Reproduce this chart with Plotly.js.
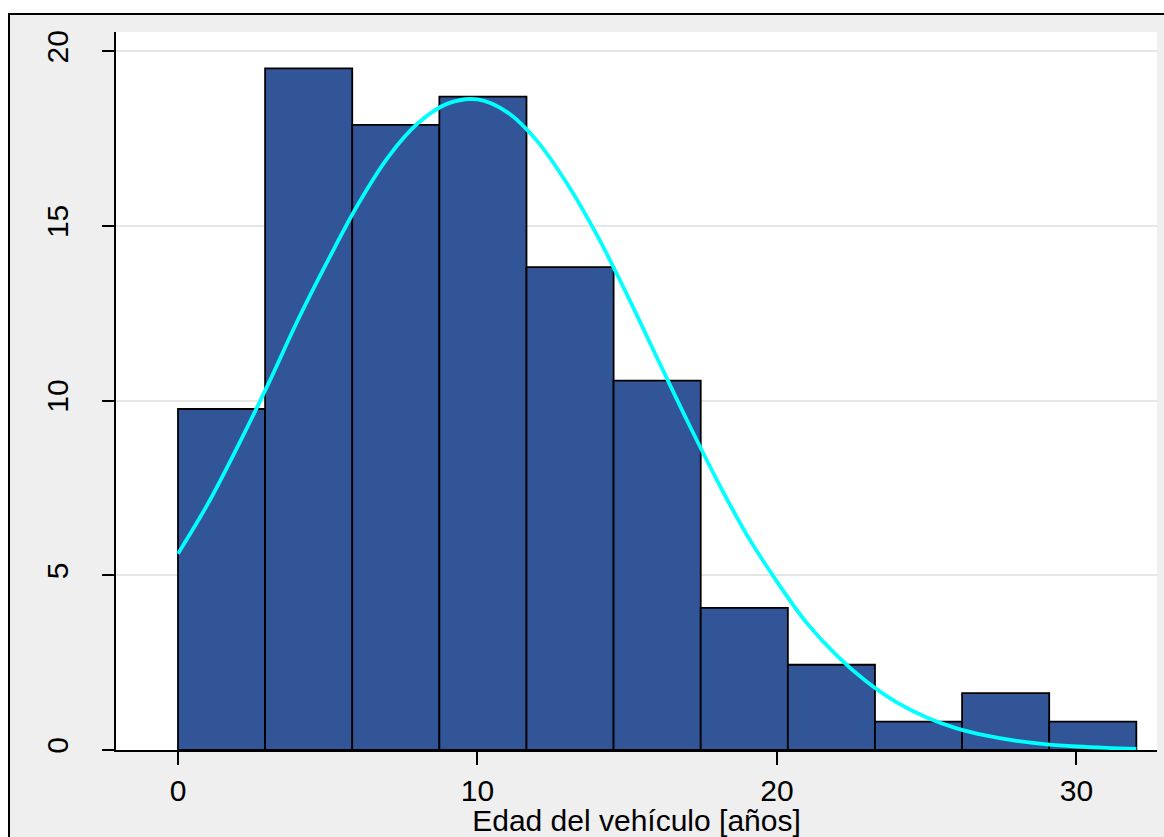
<!DOCTYPE html>
<html>
<head>
<meta charset="utf-8">
<script src="https://cdn.plot.ly/plotly-3.0.1.min.js"></script>
<style>
  html, body { margin: 0; padding: 0; background: #ffffff; overflow: hidden; width: 1164px; height: 837px; }
  #chart { position: absolute; left: 8px; top: 13px; width: 1154px; height: 822px;
           border-left: 2px solid #000; border-top: 2px solid #000; background: #efefef; }
</style>
</head>
<body>
<div id="chart"></div>
<script>
// Histogram: percent of vehicles per age bin (N = 123), 11 bins from 0 to 32 years
const binStart = 0;
const binEnd = 32;
const percent = [9.76, 19.51, 17.89, 18.70, 13.82, 10.57, 4.07, 2.44, 0.81, 1.63, 0.81];

// Normal-density overlay, values at each year (age, percent)
const curveX = [0, 1, 2, 3, 4, 5, 6, 7, 8, 9, 10, 11, 12, 13, 14, 15, 16, 17, 18, 19, 20, 21, 22, 23, 24, 25, 26, 27, 28, 29, 30, 31, 32];
const curveY = [5.62, 7.05, 8.7, 10.45, 12.3, 14.0, 15.6, 16.95, 17.93, 18.5, 18.62, 18.25, 17.42, 16.2, 14.72, 13.02, 11.22, 9.43, 7.72, 6.15, 4.82, 3.63, 2.7, 1.95, 1.36, 0.93, 0.62, 0.41, 0.26, 0.16, 0.10, 0.06, 0.035];

const xTicks = [0, 10, 20, 30];
const yTicks = [0, 5, 10, 15, 20];
const xTitle = 'Edad del vehículo [años]';

const binWidth = (binEnd - binStart) / percent.length;
const binLeft = percent.map((_, i) => binStart + i * binWidth);

const font = "'Liberation Sans', Arial, Helvetica, sans-serif";

const traces = [
  {
    type: 'bar',
    x: binLeft,
    y: percent,
    width: binWidth,
    offset: 0,
    marker: { color: '#325598', line: { color: '#000000', width: 1.8 } },
    hoverinfo: 'x+y'
  },
  {
    type: 'scatter',
    mode: 'lines',
    x: curveX,
    y: curveY,
    line: { color: '#00ffff', width: 3.8, shape: 'spline', smoothing: 1 },
    hoverinfo: 'x+y'
  }
];

const layout = {
  width: 1154,
  height: 822,
  margin: { l: 106, r: 7, t: 17, b: 87 },
  paper_bgcolor: '#efefef',
  plot_bgcolor: '#ffffff',
  showlegend: false,
  bargap: 0,
  font: { family: font, size: 30, color: '#000000' },
  xaxis: {
    range: [-2.07, 32.69],
    tickvals: xTicks,
    ticktext: xTicks.map(String),
    ticks: 'outside',
    ticklen: 13,
    tickwidth: 2,
    tickcolor: '#000',
    showline: true,
    linecolor: '#000',
    linewidth: 2,
    showgrid: false,
    zeroline: false,
    tickfont: { family: font, size: 30, color: '#000' },
    title: { text: xTitle, font: { family: font, size: 30, color: '#000' }, standoff: 0 }
  },
  yaxis: {
    range: [0, 20.55],
    tickvals: yTicks,
    ticktext: yTicks.map(String),
    tickangle: -90,
    ticks: 'outside',
    ticklen: 12,
    tickwidth: 2,
    tickcolor: '#000',
    showline: true,
    linecolor: '#000',
    linewidth: 2,
    showgrid: true,
    gridcolor: '#e6e6e6',
    gridwidth: 2,
    zeroline: false,
    tickfont: { family: font, size: 30, color: '#000' },
    ticklabelstandoff: 22
  }
};

Plotly.newPlot('chart', traces, layout, { displayModeBar: false, staticPlot: true });
</script>
</body>
</html>
